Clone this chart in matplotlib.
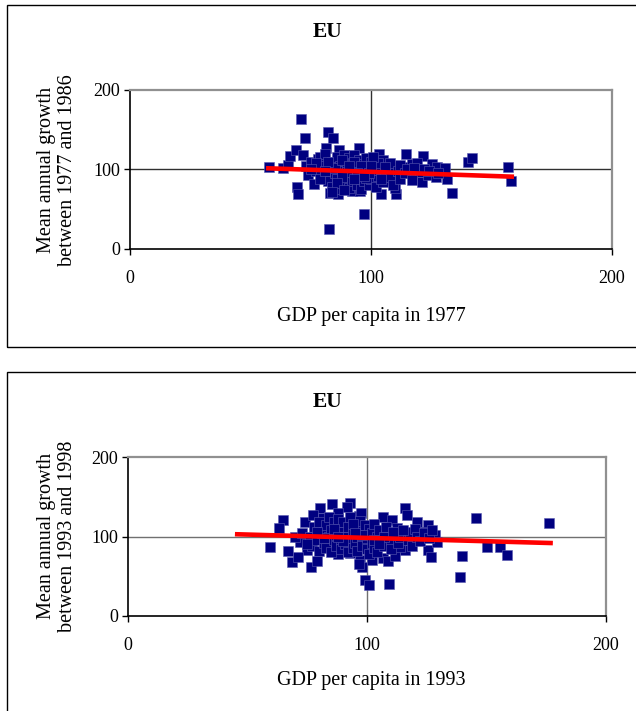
import matplotlib
matplotlib.use('Agg')
from matplotlib import pyplot as plt
from matplotlib.patches import Rectangle

plt.rcParams['font.family'] = ['Liberation Serif', 'DejaVu Serif']

# Painel 1977-1986 (GDP per capita 1977, growth)
gdp_1977 = [57.8, 63.6, 65.7, 66.4, 68.9, 71.9, 70.8, 72.6, 82.3, 84.1, 69.4, 69.9, 82.6, 97.1, 83, 86.4,
            92, 95.4, 81.3, 86.8, 95.1, 103.3, 114.4, 121.4, 104.1, 110.2, 133.5, 140.4, 142, 157, 158,
            107.2, 109.3, 113.4, 116.9, 119, 125.2, 127.3, 130.7, 121, 110, 101.7, 107.9, 116.2, 120.3, 123.8, 127, 131.4,
            73, 74, 75, 76.5, 77, 78, 79, 80.8, 80, 81, 82, 83, 84, 84, 85, 86, 86, 87, 87, 88, 89, 89, 90, 90,
            91, 91, 92, 92, 92.6, 93, 93, 94, 94, 95, 95, 96, 96, 97, 97, 98, 98, 99, 99, 100, 100, 101, 102, 102,
            103, 104, 105, 105, 106, 108, 108, 109, 111, 112, 112, 114, 115, 117, 118, 122, 124, 128, 79, 77, 85,
            88, 90, 93, 96, 98, 100, 103, 75, 82, 88, 94, 99, 106, 81, 86, 91, 97, 101, 104, 84, 89, 93, 100]
growth_1977 = [103.5, 101.5, 105.6, 117, 124, 118, 163, 139, 147, 140, 78, 69, 25, 43.6, 70, 69,
               73, 73, 126.7, 124.5, 126.7, 120, 119, 117, 69, 69, 71, 109, 115, 103, 85,
               105.6, 103.5, 103.5, 106.5, 107.8, 106.5, 103.5, 102.3, 84.7, 76.3, 84.7, 86.8, 95.2, 97.2, 93, 91, 88,
               104, 93, 110, 82, 98, 113, 116, 120, 105, 92, 85, 100, 110, 78, 95, 116, 88, 105, 75, 98, 118, 82, 108, 92,
               114, 77, 100, 86, 108, 118, 95, 80, 103, 112, 90, 76, 98, 107, 85, 115, 94, 80, 102, 110, 88, 96, 106, 78,
               92, 100, 112, 84, 95, 108, 90, 80, 98, 106, 88, 95, 100, 87, 102, 100, 98, 96, 88, 108, 102,
               112, 97, 110, 104, 89, 99, 108, 100, 110, 90, 96, 95, 103, 98, 83, 104, 92, 116, 88, 72, 74, 88, 105]
trend_x_1977 = [57.4, 158.4]
trend_y_1977 = [101.5, 91]

# Painel 1993-1998
gdp_1993 = [59.4, 65, 63.2, 66.8, 68.5, 76.6, 79, 80.3, 85.5, 92.9, 91.7, 74, 77.5, 81.7, 88, 72, 74.8, 71.3, 70, 73,
            115.9, 116.6, 120.8, 125.6, 106.8, 110.3, 112.4, 125.6, 126.8, 99.2, 100.8, 109.2, 106.8, 108.6, 111.7,
            115.9, 113.8, 138.9, 139.6, 92.9, 97, 102, 97.8, 96.8, 122.9, 128.5, 129.2, 145.6, 176, 150, 155.6, 158.7,
            96.8, 97.6, 88,
            76, 77, 78, 79, 80, 80, 81, 82, 83, 83, 84, 84, 85, 85, 86, 86, 87, 87, 88, 88, 89, 89, 90, 90, 91, 91,
            92, 92, 93, 93, 94, 94, 95, 95, 96, 96, 97, 97, 98, 98, 99, 99, 100, 100, 101, 101, 102, 102, 103, 103,
            104, 104, 105, 106, 107, 108, 108, 110, 110, 112, 113, 114, 117, 118, 119, 120, 121, 122, 124, 126, 127,
            82, 86, 90, 94, 98, 103, 107, 111, 75, 79, 88, 95, 105, 115]
growth_1993 = [86.4, 120.8, 110.3, 81.8, 68.3, 61.2, 69.6, 135.4, 140.9, 141.7, 137, 118.6, 127, 122.9, 129, 93.5, 83, 74.6, 99, 105,
               135.4, 127, 118.6, 114.5, 124, 120.8, 110.3, 83, 73.8, 45.3, 39, 40.3, 72.5, 69.6, 75.4,
               83, 87.2, 48.6, 75.5, 78.9, 70.4, 70.4, 62, 66, 106, 101.9, 93.5, 122.9, 117.4, 87.2, 87, 76.7,
               126, 130, 78,
               100, 88, 112, 95, 118, 82, 105, 92, 115, 85, 100, 125, 108, 80, 95, 118, 102, 88, 112, 122, 96, 84, 106, 118, 90, 100,
               112, 80, 124, 96, 104, 86, 115, 92, 100, 82, 110, 120, 94, 88, 104, 115, 98, 84, 110, 78, 92, 104, 116, 86,
               100, 80, 108, 94, 88, 102, 112, 96, 84, 104, 92, 100, 96, 106, 88, 110, 100, 94, 104, 98, 108,
               98, 110, 94, 116, 102, 95, 100, 106, 90, 106, 100, 105, 90, 108]
trend_x_1993 = [45.7, 176.8]
trend_y_1993 = [102.8, 91.8]

fig = plt.figure(figsize=(6.36, 7.11), dpi=100)

# molduras
fig.patches.append(Rectangle((7 / 636, 1 - 347 / 711), 640 / 636, 342 / 711, transform=fig.transFigure,
                             fill=False, edgecolor='black', linewidth=1))
fig.patches.append(Rectangle((7 / 636, -0.05), 640 / 636, 1 - 372 / 711 + 0.05, transform=fig.transFigure,
                             fill=False, edgecolor='black', linewidth=1))

paineis = [
    ([130 / 636, 1 - 249 / 711, 482 / 636, 159 / 711], gdp_1977, growth_1977, trend_x_1977, trend_y_1977,
     '1977', '1986', 32, 316, 170, '#303030'),
    ([128 / 636, 1 - 616 / 711, 478 / 636, 159 / 711], gdp_1993, growth_1993, trend_x_1993, trend_y_1993,
     '1993', '1998', 402, 680, 536, '#707070'),
]

for pos, gx, gy, tx, ty, ano0, ano1, ytit, yxl, yyl, corgrade in paineis:
    ax = fig.add_axes(pos)
    ax.set_xlim(0, 200)
    ax.set_ylim(0, 200)
    ax.axhline(100, color=corgrade, linewidth=1, zorder=1)
    ax.axvline(100, color=corgrade, linewidth=1, zorder=1)
    ax.scatter(gx, gy, marker='s', s=50, color='#000080', edgecolors='#5a5ab0', linewidths=0.4, zorder=3)
    ax.plot(tx, ty, color='red', linewidth=3.3, zorder=4)
    ax.set_xticks([0, 100, 200])
    ax.set_yticks([0, 100, 200])
    ax.tick_params(direction='out', length=4, width=1, labelsize=13, color='black', pad=11)
    ax.tick_params(axis='y', pad=3)
    for s in ['top', 'right']:
        ax.spines[s].set_color('#909090')
        ax.spines[s].set_linewidth(1.6)
    for s in ['left', 'bottom']:
        ax.spines[s].set_color('black')
        ax.spines[s].set_linewidth(1.2)
    fig.text(328 / 636, 1 - ytit / 711, 'EU', ha='center', va='center', fontsize=15.5, fontweight='bold')
    fig.text(371 / 636, 1 - yxl / 711, 'GDP per capita in ' + ano0, ha='center', va='center', fontsize=14.5)
    fig.text(57 / 636, 1 - yyl / 711, 'Mean annual growth\nbetween ' + ano0 + ' and ' + ano1,
             ha='center', va='center', rotation=90, fontsize=14.5, linespacing=1.2)

fig.savefig('out.png', dpi=100)
